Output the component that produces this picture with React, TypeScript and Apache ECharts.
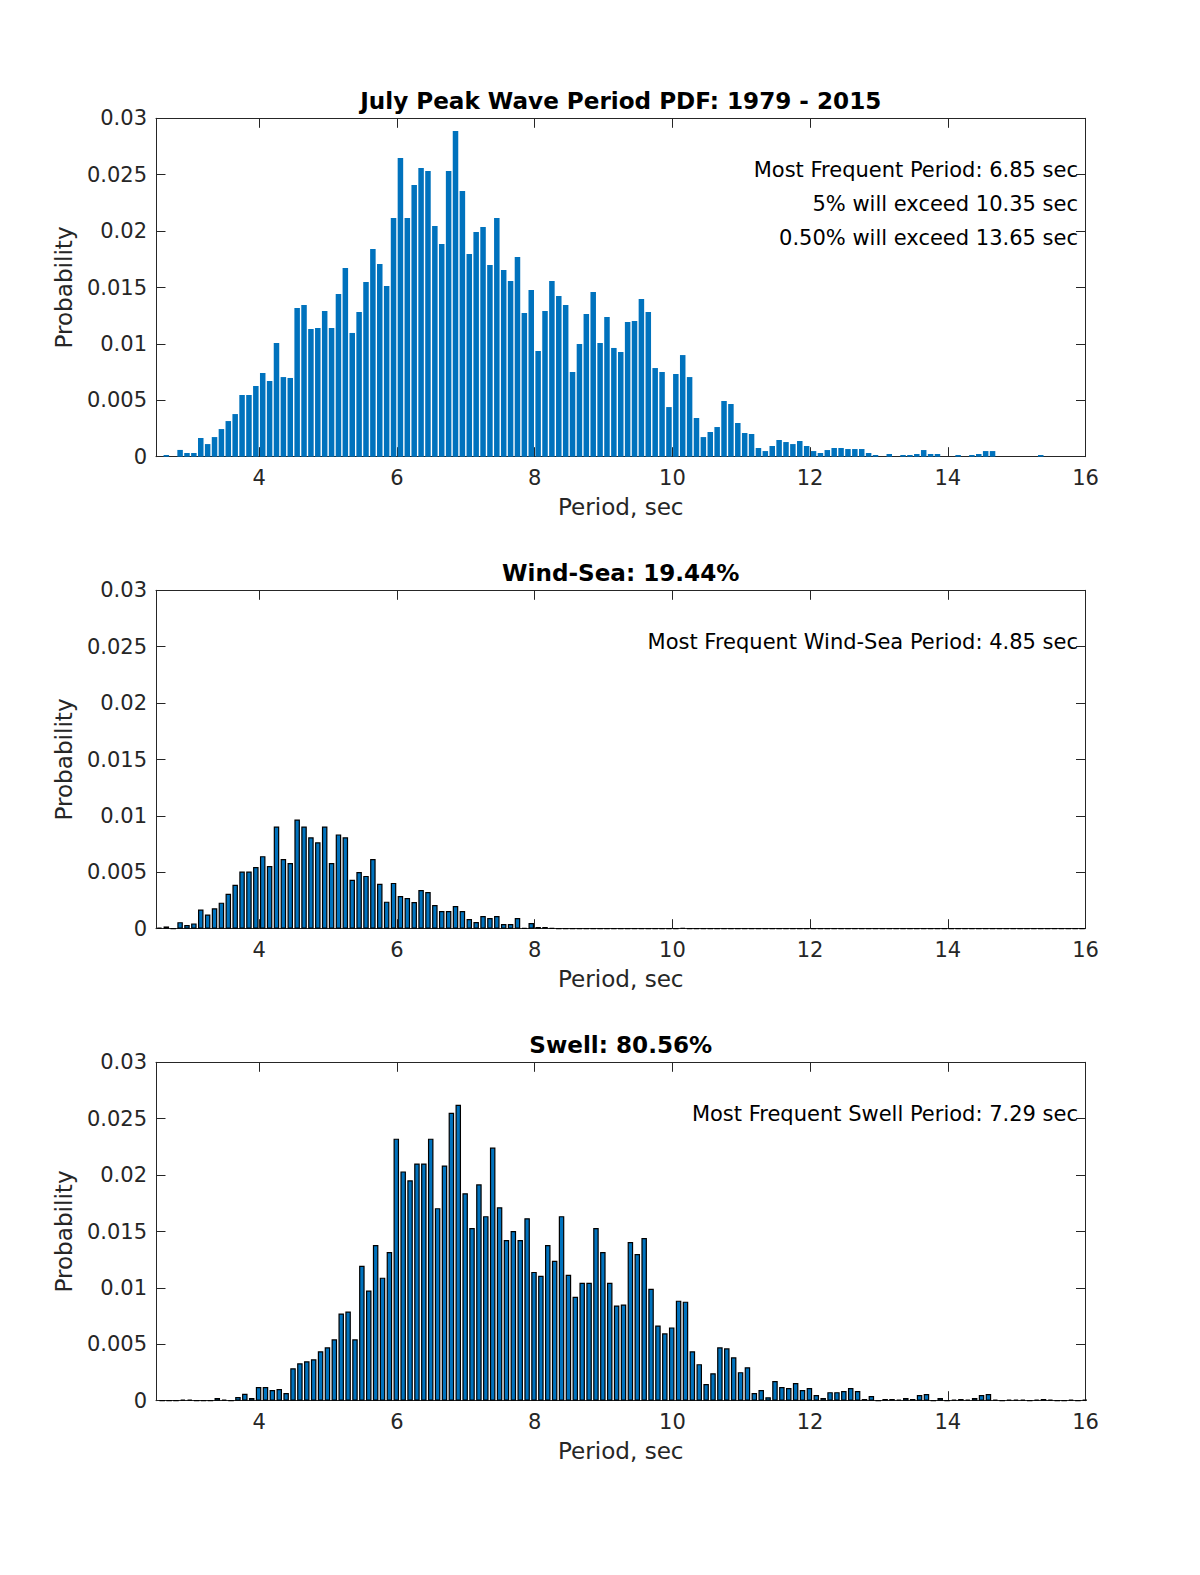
import React, { useEffect, useRef } from "react";
import * as echarts from "echarts";

// ---------- DATA ----------
const periodBins = [
  2.55, 2.65, 2.75, 2.85, 2.95, 3.05, 3.15, 3.25, 3.35, 3.45,
  3.55, 3.65, 3.75, 3.85, 3.95, 4.05, 4.15, 4.25, 4.35, 4.45,
  4.55, 4.65, 4.75, 4.85, 4.95, 5.05, 5.15, 5.25, 5.35, 5.45,
  5.55, 5.65, 5.75, 5.85, 5.95, 6.05, 6.15, 6.25, 6.35, 6.45,
  6.55, 6.65, 6.75, 6.85, 6.95, 7.05, 7.15, 7.25, 7.35, 7.45,
  7.55, 7.65, 7.75, 7.85, 7.95, 8.05, 8.15, 8.25, 8.35, 8.45,
  8.55, 8.65, 8.75, 8.85, 8.95, 9.05, 9.15, 9.25, 9.35, 9.45,
  9.55, 9.65, 9.75, 9.85, 9.95, 10.05, 10.15, 10.25, 10.35, 10.45,
  10.55, 10.65, 10.75, 10.85, 10.95, 11.05, 11.15, 11.25, 11.35, 11.45,
  11.55, 11.65, 11.75, 11.85, 11.95, 12.05, 12.15, 12.25, 12.35, 12.45,
  12.55, 12.65, 12.75, 12.85, 12.95, 13.05, 13.15, 13.25, 13.35, 13.45,
  13.55, 13.65, 13.75, 13.85, 13.95, 14.05, 14.15, 14.25, 14.35, 14.45,
  14.55, 14.65, 14.75, 14.85, 14.95, 15.05, 15.15, 15.25, 15.35, 15.45,
  15.55, 15.65, 15.75, 15.85, 15.95,
];

const swellPeriodBins = [
  2.59, 2.69, 2.79, 2.89, 2.99, 3.09, 3.19, 3.29, 3.39, 3.49,
  3.59, 3.69, 3.79, 3.89, 3.99, 4.09, 4.19, 4.29, 4.39, 4.49,
  4.59, 4.69, 4.79, 4.89, 4.99, 5.09, 5.19, 5.29, 5.39, 5.49,
  5.59, 5.69, 5.79, 5.89, 5.99, 6.09, 6.19, 6.29, 6.39, 6.49,
  6.59, 6.69, 6.79, 6.89, 6.99, 7.09, 7.19, 7.29, 7.39, 7.49,
  7.59, 7.69, 7.79, 7.89, 7.99, 8.09, 8.19, 8.29, 8.39, 8.49,
  8.59, 8.69, 8.79, 8.89, 8.99, 9.09, 9.19, 9.29, 9.39, 9.49,
  9.59, 9.69, 9.79, 9.89, 9.99, 10.09, 10.19, 10.29, 10.39, 10.49,
  10.59, 10.69, 10.79, 10.89, 10.99, 11.09, 11.19, 11.29, 11.39, 11.49,
  11.59, 11.69, 11.79, 11.89, 11.99, 12.09, 12.19, 12.29, 12.39, 12.49,
  12.59, 12.69, 12.79, 12.89, 12.99, 13.09, 13.19, 13.29, 13.39, 13.49,
  13.59, 13.69, 13.79, 13.89, 13.99, 14.09, 14.19, 14.29, 14.39, 14.49,
  14.59, 14.69, 14.79, 14.89, 14.99, 15.09, 15.19, 15.29, 15.39, 15.49,
  15.59, 15.69, 15.79, 15.89, 15.99,
];

const totalPdf = [
  0, 0.00015, 0, 0.0006, 0.00033, 0.00033, 0.00166, 0.00112, 0.00174, 0.00245,
  0.00316, 0.00378, 0.00547, 0.00547, 0.00627, 0.00742, 0.00671, 0.01008, 0.00706, 0.00698,
  0.01318, 0.01345, 0.01132, 0.01141, 0.01292, 0.01141, 0.01442, 0.01673, 0.01097, 0.01283,
  0.01549, 0.01841, 0.01708, 0.01513, 0.02116, 0.02648, 0.02116, 0.02409, 0.0256, 0.02533,
  0.02045, 0.01886, 0.02533, 0.02888, 0.02356, 0.01797, 0.01992, 0.02036, 0.017, 0.02116,
  0.01655, 0.01558, 0.0177, 0.01274, 0.01478, 0.00937, 0.01292, 0.01558, 0.01425, 0.01345,
  0.00751, 0.00999, 0.01265, 0.0146, 0.01008, 0.01238, 0.00964, 0.00928, 0.01194, 0.01203,
  0.01398, 0.01283, 0.00786, 0.00751, 0.0044, 0.00733, 0.00901, 0.00706, 0.00343, 0.00174,
  0.00219, 0.00263, 0.00494, 0.00467, 0.00299, 0.0021, 0.00201, 0.00077, 0.0005, 0.00095,
  0.00148, 0.0013, 0.00112, 0.00139, 0.00095, 0.0005, 0.00033, 0.00059, 0.00077, 0.00077,
  0.00068, 0.00068, 0.00068, 0.00033, 0.00015, 0, 0.00024, 0, 0.00015, 0.00015,
  0.00024, 0.00059, 0.00024, 0.00024, 0, 0, 0.00015, 0, 0.00015, 0.00024,
  0.0005, 0.0005, 0, 0, 0, 0, 0, 0, 0.00015, 0,
  0, 0, 0, 0, 0,
];

const windSeaPdf = [
  0.0001, 0.0002, 0, 0.00058, 0.00032, 0.00047, 0.0017, 0.00126, 0.00181, 0.00231,
  0.0031, 0.00389, 0.00506, 0.00506, 0.00547, 0.00643, 0.00556, 0.00906, 0.00617, 0.00582,
  0.00968, 0.00906, 0.0081, 0.00766, 0.00906, 0.00582, 0.00836, 0.0081, 0.00433, 0.00503,
  0.00468, 0.00617, 0.00398, 0.0024, 0.00406, 0.0029, 0.00272, 0.00237, 0.00343, 0.00325,
  0.0021, 0.00157, 0.00157, 0.00201, 0.00157, 0.00086, 0.00059, 0.00112, 0.00095, 0.00112,
  0.00041, 0.00041, 0.00095, 0.00006, 0.0005, 0.00015, 0.00015, 0.00006, 0, 0,
  0, 0, 0, 0, 0, 0, 0, 0, 0, 0,
  0, 0, 0, 0, 0, 0, 0.00008, 0, 0, 0,
  0, 0, 0, 0, 0, 0, 0, 0, 0, 0,
  0, 0, 0, 0, 0, 0, 0, 0, 0, 0,
  0, 0, 0, 0, 0, 0, 0, 0, 0, 0,
  0, 0, 0, 0, 0, 0, 0, 0, 0, 0,
  0, 0, 0, 0, 0, 0, 0, 0, 0, 0,
  0, 0, 0, 0, 0,
];

const swellPdf = [
  0, 0, 0, 0.0001, 0.0001, 0, 0, 0, 0.00024, 0.0001,
  0, 0.00033, 0.00062, 0.00024, 0.00121, 0.00121, 0.00095, 0.00104, 0.00068, 0.00288,
  0.00332, 0.0035, 0.00367, 0.00438, 0.00473, 0.00544, 0.00773, 0.00791, 0.00544, 0.01196,
  0.00976, 0.0138, 0.01091, 0.01318, 0.02323, 0.02033, 0.01954, 0.02103, 0.02103, 0.02323,
  0.01707, 0.02085, 0.02553, 0.02623, 0.01839, 0.01531, 0.01918, 0.01636, 0.02244, 0.01715,
  0.01424, 0.01504, 0.01424, 0.01618, 0.01142, 0.01107, 0.0138, 0.0124, 0.01636, 0.01116,
  0.00922, 0.01046, 0.01046, 0.01531, 0.01318, 0.01046, 0.00844, 0.00853, 0.01407, 0.01301,
  0.01442, 0.00993, 0.00667, 0.00597, 0.0065, 0.00887, 0.00878, 0.00438, 0.00324, 0.00147,
  0.00244, 0.00473, 0.00464, 0.00385, 0.00253, 0.00297, 0.00068, 0.00095, 0.0003, 0.00174,
  0.00121, 0.00112, 0.00156, 0.00094, 0.00112, 0.0005, 0.00024, 0.00076, 0.00076, 0.00085,
  0.00112, 0.00085, 0.00015, 0.00041, 0, 0.00015, 0.00015, 0.0001, 0.00024, 0.00015,
  0.0005, 0.00059, 0, 0.00024, 0, 0.0001, 0.00015, 0.0001, 0.00024, 0.0005,
  0.00059, 0.0001, 0, 0.0001, 0.0001, 0.0001, 0, 0.0001, 0.00015, 0.0001,
  0, 0, 0.0001, 0, 0.0001,
];

const xTickValues = [4, 6, 8, 10, 12, 14, 16];
const xMin = 2.5;
const xMax = 16;
const yMin = 0;
const yMax = 0.03;
const yInterval = 0.005;

const panelTitles = [
  "July Peak Wave Period PDF: 1979 - 2015",
  "Wind-Sea: 19.44%",
  "Swell: 80.56%",
];
const panelNotes = [
  ["Most Frequent Period: 6.85 sec", "5% will exceed 10.35 sec", "0.50% will exceed 13.65 sec"],
  ["Most Frequent Wind-Sea Period: 4.85 sec"],
  ["Most Frequent Swell Period: 7.29 sec"],
];
const xAxisName = "Period, sec";
const yAxisName = "Probability";

// ---------- LAYOUT ----------
const FONT = "DejaVu Sans";
const AXIS_COLOR = "#262626";
const BAR_COLOR = "#0072BD";
const GRID_LEFT = 156;
const GRID_WIDTH = 929.5;
const GRID_HEIGHT = 338.4;
const PANEL_TOPS = [118.3, 590.3, 1062.3];
const TICK_FONT = 21;
const LABEL_FONT = 23.1;

export default function App() {
  const ref = useRef<HTMLDivElement>(null);

  useEffect(() => {
    if (!ref.current) return;
    const chart = echarts.init(ref.current, undefined, { renderer: "svg" });

    const barWidth = (GRID_WIDTH / (xMax - xMin)) * 0.1 * 0.8;
    const panels = [
      { bins: periodBins, values: totalPdf, edge: 0 },
      { bins: periodBins, values: windSeaPdf, edge: 1.2 },
      { bins: swellPeriodBins, values: swellPdf, edge: 1.2 },
    ];

    const grid: any[] = [];
    const xAxis: any[] = [];
    const yAxis: any[] = [];
    const series: any[] = [];
    const graphic: any[] = [];

    const lineStyle = { color: AXIS_COLOR, width: 1 };

    panels.forEach((p, i) => {
      const top = PANEL_TOPS[i];
      grid.push({
        left: GRID_LEFT,
        top,
        width: GRID_WIDTH,
        height: GRID_HEIGHT,
        containLabel: false,
        outerBoundsMode: "none",
      });
      xAxis.push({
        gridIndex: i,
        type: "value",
        min: xMin,
        max: xMax,
        position: "bottom",
        axisLine: { show: true, onZero: false, lineStyle },
        axisTick: { show: true, inside: true, length: 9.5, customValues: xTickValues, lineStyle },
        axisLabel: {
          show: true,
          customValues: xTickValues,
          fontSize: TICK_FONT,
          fontFamily: FONT,
          color: AXIS_COLOR,
          margin: 11,
        },
        splitLine: { show: false },
        name: xAxisName,
        nameLocation: "middle",
        nameGap: 39,
        nameTextStyle: { fontSize: LABEL_FONT, fontFamily: FONT, color: AXIS_COLOR },
      });
      xAxis.push({
        gridIndex: i,
        type: "value",
        min: xMin,
        max: xMax,
        position: "top",
        axisLine: { show: true, onZero: false, lineStyle },
        axisTick: { show: true, inside: true, length: 9.5, customValues: xTickValues, lineStyle },
        axisLabel: { show: false },
        splitLine: { show: false },
      });
      yAxis.push({
        gridIndex: i,
        type: "value",
        min: yMin,
        max: yMax,
        interval: yInterval,
        position: "left",
        axisLine: { show: true, onZero: false, lineStyle },
        axisTick: { show: true, inside: true, length: 9.5, lineStyle },
        axisLabel: {
          show: true,
          fontSize: TICK_FONT,
          fontFamily: FONT,
          color: AXIS_COLOR,
          margin: 9,
          formatter: (v: number) => String(+v.toFixed(4)),
        },
        splitLine: { show: false },
        name: yAxisName,
        nameLocation: "middle",
        nameGap: 76,
        nameRotate: 90,
        nameTextStyle: { fontSize: LABEL_FONT, fontFamily: FONT, color: AXIS_COLOR },
      });
      yAxis.push({
        gridIndex: i,
        type: "value",
        min: yMin,
        max: yMax,
        interval: yInterval,
        position: "right",
        axisLine: { show: true, onZero: false, lineStyle },
        axisTick: { show: true, inside: true, length: 9.5, lineStyle },
        axisLabel: { show: false },
        splitLine: { show: false },
      });
      series.push({
        type: "bar",
        xAxisIndex: 2 * i,
        yAxisIndex: 2 * i,
        barWidth,
        data: p.bins.map((b, k) => [b, p.values[k]]),
        itemStyle: {
          color: BAR_COLOR,
          borderColor: "#000",
          borderWidth: p.edge,
        },
        silent: true,
      });

      graphic.push({
        type: "text",
        x: GRID_LEFT + GRID_WIDTH / 2,
        y: top - 17,
        style: {
          text: panelTitles[i],
          fill: "#000",
          fontFamily: FONT,
          fontSize: LABEL_FONT,
          fontWeight: "bold",
          textAlign: "center",
          textVerticalAlign: "middle",
        },
      });
      panelNotes[i].forEach((note, j) => {
        graphic.push({
          type: "text",
          x: 1078,
          y: top + 52 + 34 * j,
          style: {
            text: note,
            fill: "#000",
            fontFamily: FONT,
            fontSize: TICK_FONT,
            textAlign: "right",
            textVerticalAlign: "middle",
          },
        });
      });
    });

    chart.setOption({
      animation: false,
      backgroundColor: "#fff",
      textStyle: { fontFamily: FONT },
      grid,
      xAxis,
      yAxis,
      series,
      graphic,
    });

    return () => chart.dispose();
  }, []);

  return (
    <div
      ref={ref}
      style={{ position: "absolute", left: 0, top: 0, width: 1200, height: 1575 }}
    />
  );
}
